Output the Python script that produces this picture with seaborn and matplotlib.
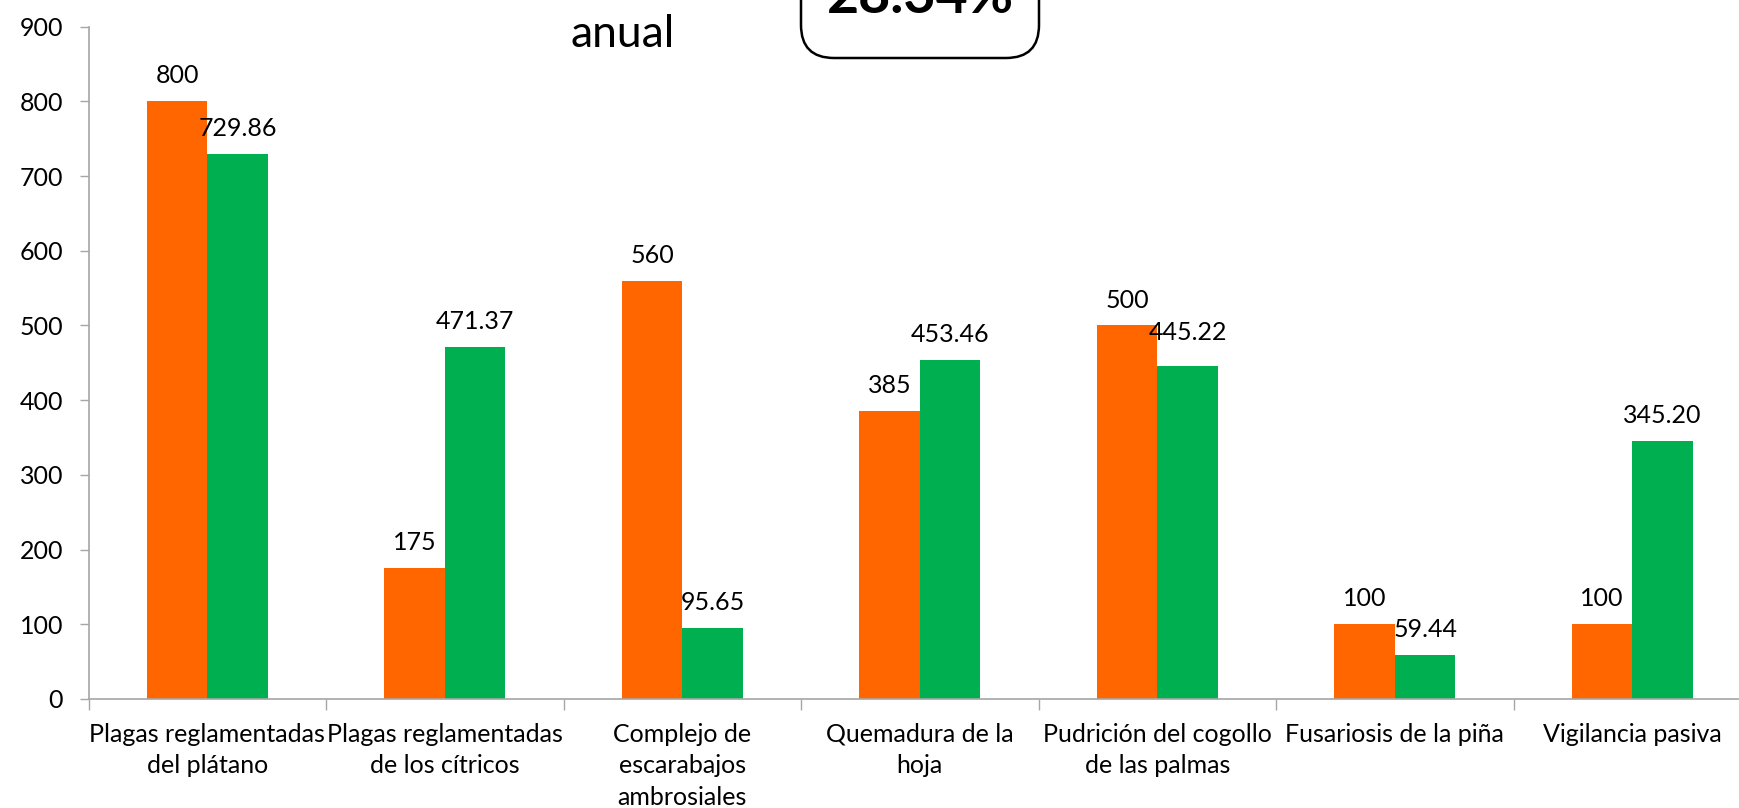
import matplotlib
matplotlib.use("Agg")
import matplotlib.pyplot as plt
import seaborn as sns
import pandas as pd
from matplotlib.patches import FancyBboxPatch

categories = [
    "Plagas reglamentadas\ndel plátano",
    "Plagas reglamentadas\nde los cítricos",
    "Complejo de\nescarabajos\nambrosiales",
    "Quemadura de la\nhoja",
    "Pudrición del cogollo\nde las palmas",
    "Fusariosis de la piña",
    "Vigilancia pasiva",
]
serie_meta = [800, 175, 560, 385, 500, 100, 100]
serie_ejecutado = [729.86, 471.37, 95.65, 453.46, 445.22, 59.44, 345.20]
series_names = ["Meta", "Ejecutado"]
series_colors = ["#FF6600", "#00B050"]
yticks = [0, 100, 200, 300, 400, 500, 600, 700, 800, 900]
title_text = "anual"
box_text = "28.34%"

sns.set_theme(style="white")
plt.rcParams['font.family'] = ['Lato', 'DejaVu Sans']

df = pd.DataFrame({
    "categoria": categories * 2,
    "serie": [series_names[0]] * len(categories) + [series_names[1]] * len(categories),
    "valor": serie_meta + serie_ejecutado,
})

W, H = 1739, 808
fig = plt.figure(figsize=(W / 100, H / 100), dpi=100)
ax = fig.add_axes([88.7 / W, 1 - 699 / H, (1751 - 88.7) / W, (699 - 26.6) / H])

sns.barplot(data=df, x="categoria", y="valor", hue="serie", palette=series_colors,
            width=0.51, saturation=1, errorbar=None, legend=False, linewidth=0, ax=ax)

fs = 18
ax.bar_label(ax.containers[0], labels=[f"{v:.0f}" for v in serie_meta], padding=10, fontsize=fs, color="black")
green_labels = ax.bar_label(ax.containers[1], labels=[f"{v:.2f}" for v in serie_ejecutado],
                            padding=10, fontsize=fs, color="black")
# the label next to a taller orange label sits a little higher in the reference
green_labels[4].xyann = (0, green_labels[4].xyann[1] + 6)

ax.set_xlim(-0.5, len(categories) - 0.5)
ax.set_ylim(0, 900)
ax.set_yticks(yticks)
ax.set_yticklabels([str(t) for t in yticks], fontsize=fs)
ax.set_xticks(range(len(categories)))
ax.set_xticklabels(categories, fontsize=fs, linespacing=1.45)
ax.set_xticks([i - 0.5 for i in range(len(categories) + 1)], minor=True)
ax.tick_params(axis="x", which="major", length=0, pad=17, colors="black")
ax.tick_params(axis="x", which="minor", length=8, width=1, color="#A6A6A6", bottom=True)
ax.tick_params(axis="y", length=6.5, width=1, color="#A6A6A6", pad=12, left=True, labelcolor="black")
ax.set_xlabel("")
ax.set_ylabel("")
for s in ["top", "right"]:
    ax.spines[s].set_visible(False)
for s in ["left", "bottom"]:
    ax.spines[s].set_color("#A6A6A6")
    ax.spines[s].set_linewidth(1.2)
ax.grid(False)

# partially visible title and highlighted box (cropped at the top, as in the reference)
fig.text(6.23, 8.08 - 0.47, title_text, transform=fig.dpi_scale_trans, ha="center", va="baseline",
         fontsize=32, color="black")
box = FancyBboxPatch((8.01, 8.08 - 0.58), 2.38, 1.5, boxstyle="round,pad=0,rounding_size=0.33",
                     transform=fig.dpi_scale_trans, facecolor="white", edgecolor="black", linewidth=1.8)
fig.patches.append(box)
fig.text(9.20, 8.08 - 0.13, box_text, transform=fig.dpi_scale_trans, ha="center", va="baseline",
         fontsize=40, fontweight="bold", color="black")

fig.savefig("out.png", dpi=100)
